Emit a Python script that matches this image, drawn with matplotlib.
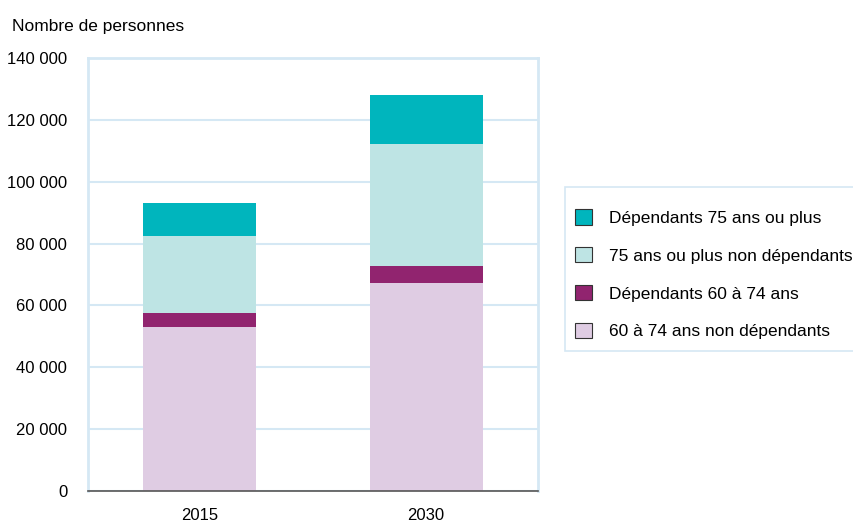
import matplotlib.pyplot as plt
from matplotlib.patches import Patch, Rectangle

plt.rcParams['font.family'] = ['Liberation Sans', 'DejaVu Sans']

# Données
annees = ["2015", "2030"]
non_dep_60_74 = [53100, 67100]
dep_60_74 = [4600, 5500]
non_dep_75 = [24600, 39500]
dep_75 = [10700, 15900]

labels = ["60 à 74 ans non dépendants", "Dépendants 60 à 74 ans",
          "75 ans ou plus non dépendants", "Dépendants 75 ans ou plus"]
couleurs = ["#DFCCE3", "#91246F", "#BEE4E4", "#00B5BD"]
grille = "#D5E8F4"

fig = plt.figure(figsize=(8.54, 5.22), dpi=100)
ax = fig.add_axes([88/854, 31/522, 450/854, 433/522])

x = range(len(annees))
bas = [0, 0]
for serie, c in zip([non_dep_60_74, dep_60_74, non_dep_75, dep_75], couleurs):
    ax.bar(x, serie, width=0.5, bottom=bas, color=c, zorder=3)
    bas = [b + v for b, v in zip(bas, serie)]

ax.set_xlim(-0.495, 1.495)
ax.set_ylim(0, 140000)
ax.set_yticks(range(0, 140001, 20000))
ax.set_yticklabels([f"{v:,}".replace(",", " ") for v in range(0, 140001, 20000)])
ax.set_xticks(list(x))
ax.set_xticklabels(annees)
ax.tick_params(axis='both', length=0, labelsize=12)
ax.tick_params(axis='x', pad=12)
ax.tick_params(axis='y', pad=15)

ax.grid(axis='y', color=grille, linewidth=1.5, zorder=0)
for s in ['left', 'top', 'right']:
    ax.spines[s].set_color(grille)
    ax.spines[s].set_linewidth(2)
ax.spines['bottom'].set_color("#555555")
ax.spines['bottom'].set_linewidth(1.2)
ax.spines['bottom'].set_zorder(4)

fig.text(12/854, 1 - 26/522, "Nombre de personnes", fontsize=12.5, va='center')

# cadre de la légende
fig.patches.append(Rectangle((565/854, 1 - 351/522), 300/854, 164/522,
                             transform=fig.transFigure, facecolor='white',
                             edgecolor=grille, linewidth=1.2, zorder=1))

handles = [Patch(facecolor=c, edgecolor="#333333", linewidth=0.8, label=l)
           for c, l in zip(couleurs[::-1], labels[::-1])]
leg = fig.legend(handles=handles, loc='upper left',
                 bbox_to_anchor=(575/854, 1 - 209/522), borderaxespad=0,
                 fontsize=12.5, frameon=False,
                 handlelength=1.0, handleheight=1.0, handletextpad=0.95,
                 labelspacing=1.22, borderpad=0.0)

fig.savefig("out.png", dpi=100)
